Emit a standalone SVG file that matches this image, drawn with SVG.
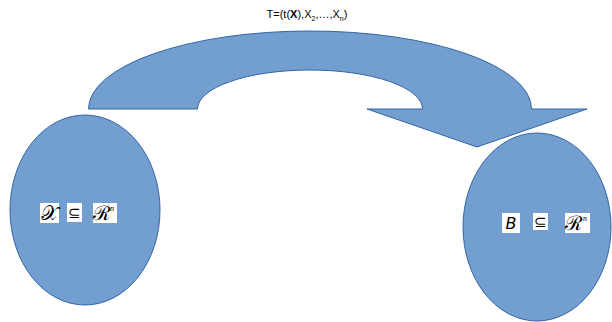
<svg xmlns="http://www.w3.org/2000/svg" width="612" height="322" viewBox="0 0 612 322">
<style>
.shape{fill:#729fcf;stroke:#3465a4;stroke-width:1}
.box{fill:#ffffff}
.title{font-family:"Liberation Sans",Arial,sans-serif;font-size:11px;fill:#000}
.math{font-family:"DejaVu Serif","Liberation Serif",serif;font-size:20px;fill:#000}
.sup{font-family:"Liberation Serif",serif;font-size:8px;font-style:italic;fill:#000}
.rel{font-family:"Liberation Sans",sans-serif;font-size:15px;fill:#000}
.sub{font-size:7px}
</style>
<rect width="612" height="322" fill="#ffffff"/>
<g id="connectors">
<path class="shape" d="M88.5,109 A221.5,78 0 0 1 531.5,109 L587,109 L477,147 L367,109 L422.5,109 A112.5,39 0 0 0 197.5,109 Z"/>
<text class="title" x="307" y="18" text-anchor="middle">T=(t(<tspan font-weight="bold">X</tspan>),X<tspan class="sub" dy="3">2</tspan><tspan dy="-3">,…,X</tspan><tspan class="sub" dy="3">n</tspan><tspan dy="-3">)</tspan></text>
</g>
<g id="node-X">
<ellipse class="shape" cx="85" cy="210" rx="75" ry="95"/>
<rect class="box" x="40" y="203" width="19" height="20"/>
<rect class="box" x="67" y="203" width="15" height="19"/>
<rect class="box" x="93" y="203" width="24" height="20"/>
<text class="math" x="49.5" y="220" text-anchor="middle">𝒳</text>
<text class="rel" x="74.5" y="218" text-anchor="middle">⊆</text>
<text class="math" x="93" y="220">ℛ</text>
<text class="sup" x="112" y="211" text-anchor="middle">n</text>
</g>
<g id="node-B">
<ellipse class="shape" cx="537" cy="227" rx="74" ry="94"/>
<rect class="box" x="502" y="213" width="18" height="20"/>
<rect class="box" x="533" y="213" width="15" height="17"/>
<rect class="box" x="565" y="213" width="25" height="20"/>
<text x="511" y="229" text-anchor="middle" font-family="'DejaVu Sans',sans-serif" font-size="16" font-style="italic">B</text>
<text class="rel" x="540.5" y="227" text-anchor="middle">⊆</text>
<text class="math" x="565" y="230">ℛ</text>
<text class="sup" x="585" y="221" text-anchor="middle">n</text>
</g>
</svg>
